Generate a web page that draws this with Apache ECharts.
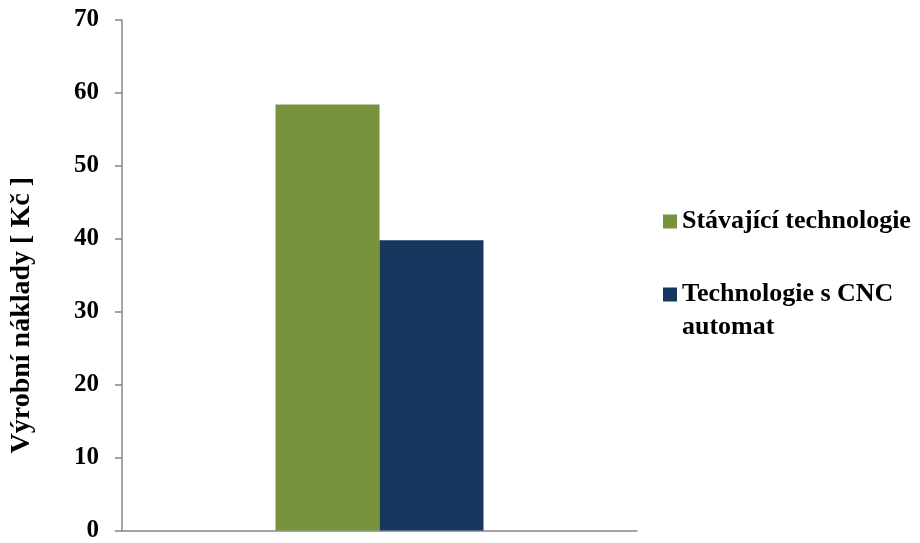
<!DOCTYPE html>
<html>
<head>
<meta charset="utf-8">
<script src="https://cdn.jsdelivr.net/npm/echarts@6/dist/echarts.min.js"></script>
<style>
  html, body { margin: 0; padding: 0; background: #fff; }
  #chart { width: 920px; height: 543px; }
</style>
</head>
<body>
<div id="chart"></div>
<script>
// data
const categories = ['']
const seriesNames = ['Stávající technologie', 'Technologie s CNC automat']
const stavajici = [58.4]
const cncAutomat = [39.8]
const yTicks = [0, 10, 20, 30, 40, 50, 60, 70]

const font = '"Liberation Serif", "Times New Roman", serif'

const myChart = echarts.init(document.getElementById('chart'))

const option = {
  animation: false,
  color: ['#77933C', '#17375E'],
  grid: {
    left: 120,
    right: 283,
    top: 20,
    bottom: 8,
    containLabel: false
  },
  legend: {
    orient: 'vertical',
    left: 663,
    top: 205,
    padding: 0,
    icon: 'rect',
    itemWidth: 14,
    itemHeight: 14,
    itemGap: 7,
    selectedMode: false,
    data: seriesNames,
    formatter: (name) => {
      // second entry wraps, icon stays on the first line
      if (name === seriesNames[1]) return '\nTechnologie s CNC\nautomat'
      return name
    },
    textStyle: {
      fontFamily: font,
      fontWeight: 'bold',
      fontSize: 26,
      color: '#000',
      lineHeight: 33
    }
  },
  xAxis: {
    type: 'category',
    data: categories,
    axisLine: { lineStyle: { color: '#878787', width: 1.5 } },
    axisTick: { show: false },
    axisLabel: { show: false }
  },
  yAxis: {
    type: 'value',
    min: yTicks[0],
    max: yTicks[yTicks.length - 1],
    interval: 10,
    name: 'Výrobní náklady [ Kč ]',
    nameLocation: 'middle',
    nameGap: 86,
    nameTextStyle: {
      fontFamily: font,
      fontWeight: 'bold',
      fontSize: 28,
      color: '#000',
      padding: [0, 80, 0, 0]
    },
    splitLine: { show: false },
    axisLine: { show: true, lineStyle: { color: '#878787', width: 1.5 } },
    axisTick: { show: true, length: 7, lineStyle: { color: '#878787', width: 1.5 } },
    axisLabel: {
      margin: 23,
      fontFamily: font,
      fontWeight: 'bold',
      fontSize: 25,
      color: '#000'
    }
  },
  series: [
    {
      name: seriesNames[0],
      type: 'bar',
      data: stavajici,
      barWidth: 104,
      barGap: '0%'
    },
    {
      name: seriesNames[1],
      type: 'bar',
      data: cncAutomat,
      barWidth: 104,
      barGap: '0%'
    }
  ]
}

myChart.setOption(option)
</script>
</body>
</html>
